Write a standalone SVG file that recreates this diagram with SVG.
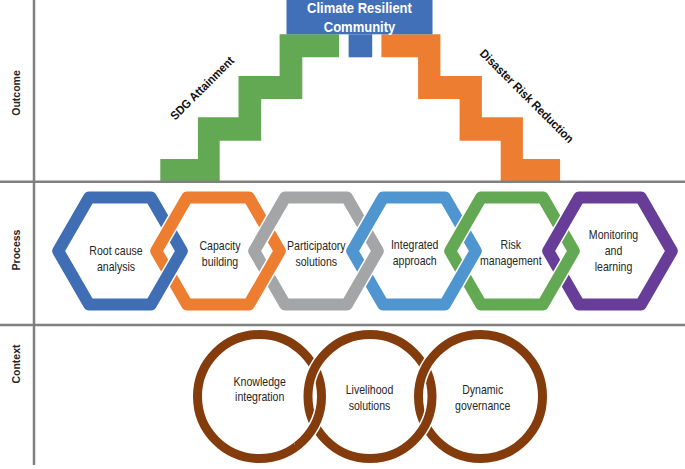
<svg xmlns="http://www.w3.org/2000/svg" xmlns:xlink="http://www.w3.org/1999/xlink" width="685" height="469" viewBox="0 0 685 469">
<style>
.lbl{font-family:"Liberation Sans",Arial,sans-serif;font-weight:bold;font-size:10.5px;fill:#262626;text-anchor:middle}
.t{font-family:"Liberation Sans",Arial,sans-serif;font-size:12px;fill:#262626;text-anchor:middle}
.tb{font-family:"Liberation Sans",Arial,sans-serif;font-weight:bold;font-size:12px;fill:#111;text-anchor:middle}
.tw{font-family:"Liberation Sans",Arial,sans-serif;font-weight:bold;font-size:14px;fill:#fff;text-anchor:middle}
.hw{fill:none;stroke:#fff;stroke-width:15;stroke-linejoin:round}
.hs{fill:none;stroke-width:12;stroke-linejoin:round}
.cw{fill:none;stroke:#fff;stroke-width:12}
.cs{fill:none;stroke:#843C0C;stroke-width:9}
.ax{stroke:#808080;stroke-width:2.5;fill:none}
</style>
<defs>
<path id="hex" d="M-61.8,0 L-30.9,-53.5 L30.9,-53.5 L61.8,0 L30.9,53.5 L-30.9,53.5 Z"/>
<circle id="ring" cx="0" cy="0" r="62"/>
<clipPath id="cb1"><rect x="150" y="252" width="38" height="48"/></clipPath>
<clipPath id="cb2"><rect x="248" y="252" width="38" height="48"/></clipPath>
<clipPath id="cb3"><rect x="346" y="252" width="38" height="48"/></clipPath>
<clipPath id="cb4"><rect x="444" y="252" width="38" height="48"/></clipPath>
<clipPath id="cb5"><rect x="542" y="252" width="38" height="48"/></clipPath>
<clipPath id="cc1"><rect x="294.5" y="397" width="40" height="48"/></clipPath>
<clipPath id="cc2"><rect x="405" y="397" width="40" height="48"/></clipPath>
</defs>
<rect width="685" height="469" fill="#fff"/>

<!-- Outcome: staircase -->
<g id="sdg-attainment">
<polygon fill="#63A853" points="279.6,34.3 339,34.3 339,57.3 302.3,57.3 302.3,99 261.2,99 261.2,140.7 219.7,140.7 219.7,181.7 160.3,181.7 160.3,159 197.9,159 197.9,117.3 238.5,117.3 238.5,76 279.6,76"/>
<text class="tb" transform="translate(202,88) rotate(-45) translate(0,4.3) scale(0.92,1)">SDG Attainment</text>
</g>
<g id="disaster-risk-reduction">
<polygon fill="#ED7D31" points="381.4,34.3 440.4,34.3 440.4,76 481.9,76 481.9,117.3 522.9,117.3 522.9,159 560.1,159 560.1,181.7 500.7,181.7 500.7,140.7 459.6,140.7 459.6,99 418.1,99 418.1,57.3 381.4,57.3"/>
<text class="tb" transform="translate(527,96) rotate(45) translate(0,4.3) scale(0.92,1)">Disaster Risk Reduction</text>
</g>
<g id="climate-resilient-community">
<rect x="286.5" y="0" width="146" height="34.3" fill="#4270B8"/>
<rect x="348.6" y="34.3" width="23.6" height="23" fill="#4270B8"/>
<text class="tw" transform="translate(359.5,13.3) scale(0.93,1)">Climate Resilient</text>
<text class="tw" transform="translate(359.5,31.8) scale(0.93,1)">Community</text>
</g>

<!-- Process: hexagons -->
<g id="root-cause-analysis">
<use xlink:href="#hex" href="#hex" class="hw" transform="translate(120,251)"/>
<use xlink:href="#hex" href="#hex" class="hs" stroke="#3F6EB5" transform="translate(120,251)"/>
<text class="t" transform="translate(116,254.5) scale(0.88,1)">Root cause</text>
<text class="t" transform="translate(116,270.5) scale(0.88,1)">analysis</text>
</g>
<g id="capacity-building">
<use xlink:href="#hex" href="#hex" class="hw" transform="translate(218,251)"/>
<use xlink:href="#hex" href="#hex" class="hs" stroke="#ED7D31" transform="translate(218,251)"/>
<text class="t" transform="translate(220,249.5) scale(0.88,1)">Capacity</text>
<text class="t" transform="translate(220,265.5) scale(0.88,1)">building</text>
</g>
<g id="participatory-solutions">
<use xlink:href="#hex" href="#hex" class="hw" transform="translate(316,251)"/>
<use xlink:href="#hex" href="#hex" class="hs" stroke="#A3A5A6" transform="translate(316,251)"/>
<text class="t" transform="translate(316.3,249.5) scale(0.88,1)">Participatory</text>
<text class="t" transform="translate(316.3,265.5) scale(0.88,1)">solutions</text>
</g>
<g id="integrated-approach">
<use xlink:href="#hex" href="#hex" class="hw" transform="translate(414,251)"/>
<use xlink:href="#hex" href="#hex" class="hs" stroke="#4F95D0" transform="translate(414,251)"/>
<text class="t" transform="translate(414.7,249) scale(0.88,1)">Integrated</text>
<text class="t" transform="translate(414.7,265) scale(0.88,1)">approach</text>
</g>
<g id="risk-management">
<use xlink:href="#hex" href="#hex" class="hw" transform="translate(512,251)"/>
<use xlink:href="#hex" href="#hex" class="hs" stroke="#63A853" transform="translate(512,251)"/>
<text class="t" transform="translate(510.8,249) scale(0.88,1)">Risk</text>
<text class="t" transform="translate(510.8,265) scale(0.88,1)">management</text>
</g>
<g id="monitoring-and-learning">
<use xlink:href="#hex" href="#hex" class="hw" transform="translate(610,251)"/>
<use xlink:href="#hex" href="#hex" class="hs" stroke="#673D98" transform="translate(610,251)"/>
<text class="t" transform="translate(613.5,238.5) scale(0.88,1)">Monitoring</text>
<text class="t" transform="translate(613.5,255) scale(0.88,1)">and</text>
<text class="t" transform="translate(613.5,271) scale(0.88,1)">learning</text>
</g>
<g id="hex-interlock">
<g clip-path="url(#cb1)"><use xlink:href="#hex" href="#hex" class="hw" transform="translate(120,251)"/><use xlink:href="#hex" href="#hex" class="hs" stroke="#3F6EB5" transform="translate(120,251)"/></g>
<g clip-path="url(#cb2)"><use xlink:href="#hex" href="#hex" class="hw" transform="translate(218,251)"/><use xlink:href="#hex" href="#hex" class="hs" stroke="#ED7D31" transform="translate(218,251)"/></g>
<g clip-path="url(#cb3)"><use xlink:href="#hex" href="#hex" class="hw" transform="translate(316,251)"/><use xlink:href="#hex" href="#hex" class="hs" stroke="#A3A5A6" transform="translate(316,251)"/></g>
<g clip-path="url(#cb4)"><use xlink:href="#hex" href="#hex" class="hw" transform="translate(414,251)"/><use xlink:href="#hex" href="#hex" class="hs" stroke="#4F95D0" transform="translate(414,251)"/></g>
<g clip-path="url(#cb5)"><use xlink:href="#hex" href="#hex" class="hw" transform="translate(512,251)"/><use xlink:href="#hex" href="#hex" class="hs" stroke="#63A853" transform="translate(512,251)"/></g>
</g>

<!-- Context: rings -->
<g id="knowledge-integration">
<use xlink:href="#ring" href="#ring" class="cw" transform="translate(259.5,396.5)"/>
<use xlink:href="#ring" href="#ring" class="cs" transform="translate(259.5,396.5)"/>
<text class="t" transform="translate(259.7,385.5) scale(0.88,1)">Knowledge</text>
<text class="t" transform="translate(259.7,401) scale(0.88,1)">integration</text>
</g>
<g id="livelihood-solutions">
<use xlink:href="#ring" href="#ring" class="cw" transform="translate(370,396.5)"/>
<use xlink:href="#ring" href="#ring" class="cs" transform="translate(370,396.5)"/>
<text class="t" transform="translate(369.5,394) scale(0.88,1)">Livelihood</text>
<text class="t" transform="translate(369.5,410) scale(0.88,1)">solutions</text>
</g>
<g id="dynamic-governance">
<use xlink:href="#ring" href="#ring" class="cw" transform="translate(480.5,396.5)"/>
<use xlink:href="#ring" href="#ring" class="cs" transform="translate(480.5,396.5)"/>
<text class="t" transform="translate(482.7,394) scale(0.88,1)">Dynamic</text>
<text class="t" transform="translate(482.7,410) scale(0.88,1)">governance</text>
</g>
<g id="ring-interlock">
<g clip-path="url(#cc1)"><use xlink:href="#ring" href="#ring" class="cw" transform="translate(259.5,396.5)"/><use xlink:href="#ring" href="#ring" class="cs" transform="translate(259.5,396.5)"/></g>
<g clip-path="url(#cc2)"><use xlink:href="#ring" href="#ring" class="cw" transform="translate(370,396.5)"/><use xlink:href="#ring" href="#ring" class="cs" transform="translate(370,396.5)"/></g>
</g>

<!-- Frame -->
<g id="frame">
<line class="ax" x1="34" y1="0" x2="34" y2="465"/>
<line class="ax" x1="0" y1="181.7" x2="685" y2="181.7"/>
<line class="ax" x1="0" y1="325" x2="685" y2="325"/>
<text class="lbl" transform="translate(19.5,93) rotate(-90)">Outcome</text>
<text class="lbl" transform="translate(19.5,250) rotate(-90)">Process</text>
<text class="lbl" transform="translate(19.5,364) rotate(-90)">Context</text>
</g>
</svg>
